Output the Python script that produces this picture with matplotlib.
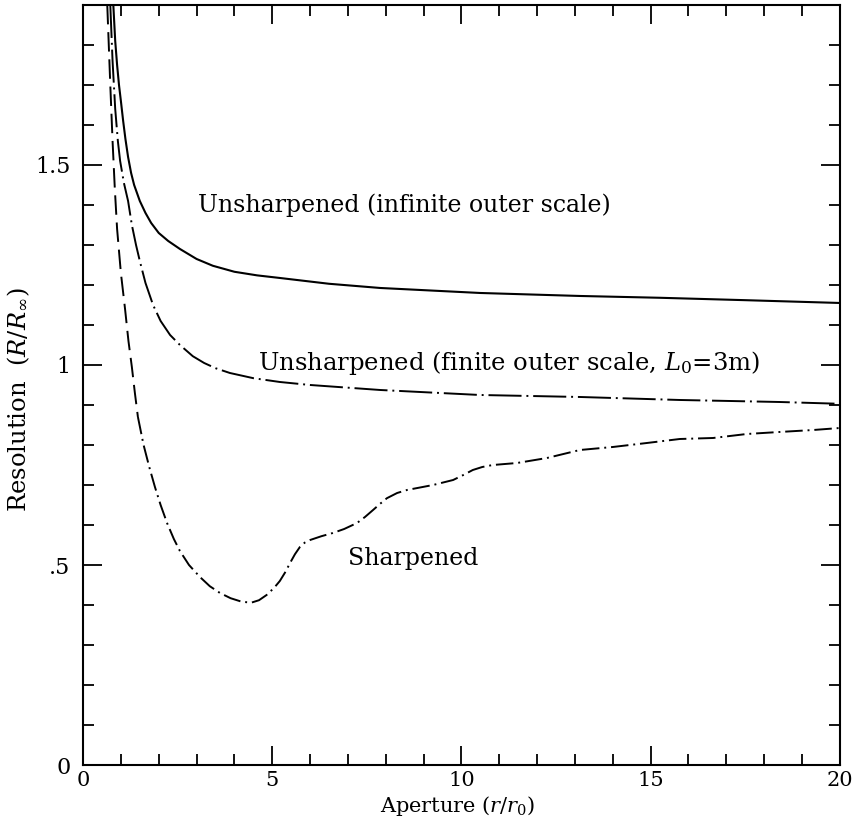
import matplotlib
matplotlib.use("Agg")
import matplotlib.pyplot as plt

plt.rcParams["font.family"] = ["DejaVu Serif"]
plt.rcParams["mathtext.fontset"] = "dejavuserif"

# unsharpened, infinite outer scale (solid)
inf_x = [0.8, 0.85, 0.9, 0.95, 1.0, 1.06, 1.12, 1.19, 1.27, 1.35, 1.5, 1.65, 1.8, 2.0, 2.25, 2.56, 3.0, 3.43,
         4.0, 4.6, 5.2, 6.5, 7.85, 10.49, 13.13, 15.24, 17.5, 20]
inf_y = [1.9, 1.81, 1.75, 1.70, 1.66, 1.61, 1.565, 1.52, 1.48, 1.45, 1.41, 1.38, 1.355, 1.33, 1.31, 1.29, 1.265,
         1.248, 1.233, 1.224, 1.2175, 1.203, 1.1925, 1.18, 1.1725, 1.168, 1.162, 1.155]

# unsharpened, finite outer scale (dash-dot)
fin_x = [0.72, 0.78, 0.85, 0.92, 0.98, 1.08, 1.19, 1.29, 1.4, 1.5, 1.65, 1.85, 2.05, 2.3, 2.56, 2.9, 3.2, 3.5,
         3.88, 4.5, 5.2, 6.0, 7.85, 10.49, 13.13, 15.77, 18.4, 20]
fin_y = [1.9, 1.76, 1.64, 1.56, 1.51, 1.455, 1.41, 1.35, 1.30, 1.26, 1.205, 1.15, 1.11, 1.075, 1.05, 1.022, 1.005,
         0.992, 0.98, 0.967, 0.9575, 0.95, 0.9375, 0.925, 0.92, 0.9125, 0.9075, 0.903]

# sharpened: dashed upper part, dash-dot lower part
shd_x = [0.64, 0.68, 0.72, 0.75, 0.78, 0.84, 0.9, 1.0, 1.11, 1.2, 1.29, 1.37, 1.45]
shd_y = [1.9, 1.8, 1.7, 1.63, 1.56, 1.44, 1.34, 1.23, 1.14, 1.06, 0.995, 0.93, 0.87]
shp_x = [1.45, 1.6, 1.75, 1.9, 2.05, 2.22, 2.4, 2.56, 2.8, 3.09, 3.35, 3.62, 3.9, 4.2, 4.45, 4.65, 4.85, 5.05,
         5.2, 5.35, 5.47, 5.6, 5.73, 5.86, 6.0, 6.3, 6.6, 6.9, 7.24, 7.45, 7.67, 7.85, 8.03, 8.3, 8.56, 9.25,
         9.78, 10.05, 10.3, 10.55, 10.83, 11.47, 12.26, 13.13, 14.0, 14.9, 15.77, 16.65, 17.54, 18.4, 19.3, 20]
shp_y = [0.87, 0.8, 0.745, 0.695, 0.65, 0.605, 0.565, 0.535, 0.5, 0.47, 0.447, 0.43, 0.417, 0.408, 0.406, 0.412,
         0.425, 0.443, 0.46, 0.483, 0.505, 0.527, 0.545, 0.556, 0.5625, 0.572, 0.58, 0.59, 0.605, 0.62, 0.638,
         0.653, 0.667, 0.68, 0.6875, 0.70, 0.7125, 0.725, 0.7375, 0.745, 0.75, 0.755, 0.7675, 0.7875, 0.795,
         0.805, 0.815, 0.8175, 0.8275, 0.8325, 0.8375, 0.8425]

x_ticks = [0, 5, 10, 15, 20]
y_ticks = [0, 0.5, 1, 1.5]
y_ticklabels = ["0", ".5", "1", "1.5"]

fig = plt.figure(figsize=(8.57, 8.22), dpi=100)
ax = fig.add_axes([0.0969, 0.0693, 0.8831, 0.9247])

ax.plot(inf_x, inf_y, color="black", lw=1.5, solid_joinstyle="round")
ax.plot(fin_x, fin_y, color="black", lw=1.4, linestyle=(0, (17, 2.5, 1, 2.5)))
ax.plot(shd_x, shd_y, color="black", lw=1.4, linestyle=(0, (10, 4)))
ax.plot(shp_x, shp_y, color="black", lw=1.4, linestyle=(0, (9, 2.5, 1, 2.5)))

ax.text(3.04, 1.40, "Unsharpened (infinite outer scale)", fontsize=17, va="center")
ax.text(4.62, 1.005, r"Unsharpened (finite outer scale, $L_0$=3m)", fontsize=17.5, va="center")
ax.text(7.0, 0.5175, "Sharpened", fontsize=17, va="center")

ax.set_xlim(0, 20)
ax.set_ylim(0, 1.9)
ax.set_xticks(x_ticks)
ax.set_xticks(range(0, 21), minor=True)
ax.set_yticks(y_ticks)
ax.set_yticklabels(y_ticklabels)
ax.set_yticks([i * 0.1 for i in range(0, 19)], minor=True)
ax.tick_params(which="both", direction="in", top=True, right=True, width=1.3)
ax.tick_params(which="major", length=14)
ax.tick_params(which="minor", length=8)
ax.tick_params(axis="x", labelsize=15, pad=4)
ax.tick_params(axis="y", labelsize=16, pad=9)
for s in ax.spines.values():
    s.set_linewidth(1.5)

ax.set_xlabel(r"Aperture ($r$/$r_0$)", fontsize=15)
ax.set_ylabel(r"Resolution  $(R/R_\infty)$", fontsize=17.5)
ax.xaxis.set_label_coords(0.495, -0.038)
ax.yaxis.set_label_coords(-0.068, 0.48)

fig.savefig("out.png", dpi=100)
